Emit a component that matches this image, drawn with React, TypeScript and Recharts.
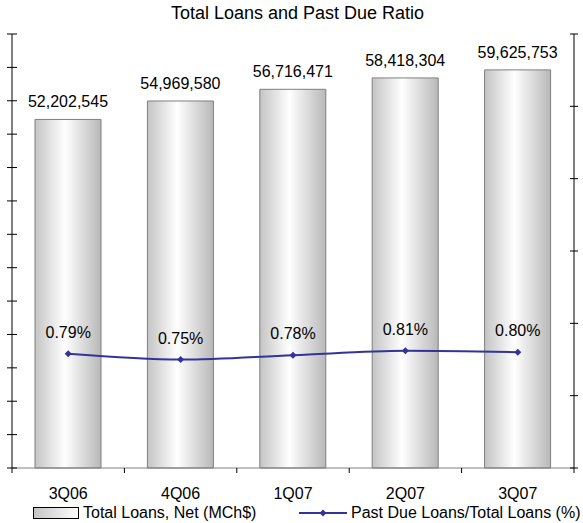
import React from 'react';
import { ComposedChart, Bar, Line, XAxis, YAxis, LabelList } from 'recharts';

const quarters = ['3Q06', '4Q06', '1Q07', '2Q07', '3Q07'];
const totalLoans = [52202545, 54969580, 56716471, 58418304, 59625753];
const pastDueRatio = [0.79, 0.75, 0.78, 0.81, 0.8];
const loanTicks = [0, 5e6, 10e6, 15e6, 20e6, 25e6, 30e6, 35e6, 40e6, 45e6, 50e6, 55e6, 60e6, 65e6];
const ratioTicks = [0, 0.5, 1, 1.5, 2, 2.5, 3];

const data = quarters.map((q, i) => ({ q, loans: totalLoans[i], ratio: pastDueRatio[i] }));

const W = 583;
const H = 523;
const PLOT_W = 562;
const FONT = '"Liberation Sans", Arial, sans-serif';
const NAVY = '#333399';

const CrossTick = ({ x, y, half }: any) => (
  <line x1={x - half} x2={x + half} y1={y} y2={y} stroke="#000" strokeWidth={1} />
);

const CategoryTick = ({ x, y, payload, index }: any) => {
  const band = PLOT_W / quarters.length;
  return (
    <g>
      <line x1={x - band / 2} x2={x - band / 2} y1={y} y2={y + 5} stroke="#000" />
      {index === quarters.length - 1 && (
        <line x1={x + band / 2} x2={x + band / 2} y1={y} y2={y + 5} stroke="#000" />
      )}
      <text x={x} y={y + 25} textAnchor="middle" dominantBaseline="central" fontSize={16} fill="#000" fontFamily={FONT}>
        {payload.value}
      </text>
    </g>
  );
};

const Diamond = ({ cx, cy }: any) => {
  if (cx == null || cy == null) return null;
  const r = 3.5;
  return <polygon points={`${cx},${cy - r} ${cx + r},${cy} ${cx},${cy + r} ${cx - r},${cy}`} fill={NAVY} />;
};

export default function App() {
  return (
    <div style={{ position: 'absolute', left: 0, top: 0, width: W, height: H, background: '#fff', fontFamily: FONT }}>
      <div style={{ position: 'absolute', top: 3, left: 6, width: W, textAlign: 'center', fontSize: 18, lineHeight: '20px', color: '#000' }}>
        Total Loans and Past Due Ratio
      </div>
      <ComposedChart width={W} height={H} data={data} margin={{ top: 34, right: 0, left: 0, bottom: 0 }}>
        <defs>
          <linearGradient id="barGrad" x1="0" y1="0" x2="1" y2="0">
            <stop offset="0%" stopColor="#c4c4c4" />
            <stop offset="45%" stopColor="#ffffff" />
            <stop offset="100%" stopColor="#b8b8b8" />
          </linearGradient>
        </defs>
        <XAxis
          dataKey="q"
          height={55}
          tickSize={0}
          tickMargin={0}
          tickLine={false}
          axisLine={{ stroke: '#808080' }}
          tick={<CategoryTick />}
          interval={0}
        />
        <YAxis
          yAxisId="left"
          width={12}
          domain={[0, 65e6]}
          ticks={loanTicks}
          interval={0}
          tickSize={0}
          tickMargin={0}
          tickLine={false}
          axisLine={{ stroke: '#000' }}
          tick={<CrossTick half={5} />}
        />
        <YAxis
          yAxisId="right"
          orientation="right"
          width={9}
          domain={[0, 3]}
          ticks={ratioTicks}
          interval={0}
          tickSize={0}
          tickMargin={0}
          tickLine={false}
          axisLine={{ stroke: '#000' }}
          tick={<CrossTick half={4} />}
        />
        <Bar yAxisId="left" dataKey="loans" barSize={66} fill="url(#barGrad)" stroke="#7f7f7f" strokeWidth={1} isAnimationActive={false}>
          <LabelList
            dataKey="loans"
            position="top"
            offset={12}
            formatter={(v: any) => Number(v).toLocaleString('en-US')}
            style={{ fontSize: 16, fill: '#000', fontFamily: FONT }}
          />
        </Bar>
        <Line
          yAxisId="right"
          type="monotone"
          dataKey="ratio"
          stroke={NAVY}
          strokeWidth={2}
          dot={<Diamond />}
          activeDot={false}
          isAnimationActive={false}
        >
          <LabelList
            dataKey="ratio"
            position="top"
            offset={16}
            formatter={(v: any) => Number(v).toFixed(2) + '%'}
            style={{ fontSize: 16, fill: '#000', fontFamily: FONT }}
          />
        </Line>
      </ComposedChart>
      <div style={{ position: 'absolute', top: 503, left: 0, width: W, height: 18, fontSize: 16, lineHeight: '18px', color: '#000' }}>
        <svg style={{ position: 'absolute', left: 33, top: 4 }} width={47} height={12}>
          <defs>
            <linearGradient id="legGrad" x1="0" y1="0" x2="1" y2="0">
              <stop offset="0%" stopColor="#c4c4c4" />
              <stop offset="100%" stopColor="#ffffff" />
            </linearGradient>
          </defs>
          <rect x={0.5} y={0.5} width={45} height={11} fill="url(#legGrad)" stroke="#000" />
        </svg>
        <span style={{ position: 'absolute', left: 83, top: 1 }}>Total Loans, Net (MCh$)</span>
        <svg style={{ position: 'absolute', left: 299, top: 3 }} width={50} height={14}>
          <line x1={0} x2={48} y1={7} y2={7} stroke={NAVY} strokeWidth={2} />
          <polygon points="24,3.5 27.5,7 24,10.5 20.5,7" fill={NAVY} />
        </svg>
        <span style={{ position: 'absolute', left: 351, top: 1 }}>Past Due Loans/Total Loans (%)</span>
      </div>
    </div>
  );
}
